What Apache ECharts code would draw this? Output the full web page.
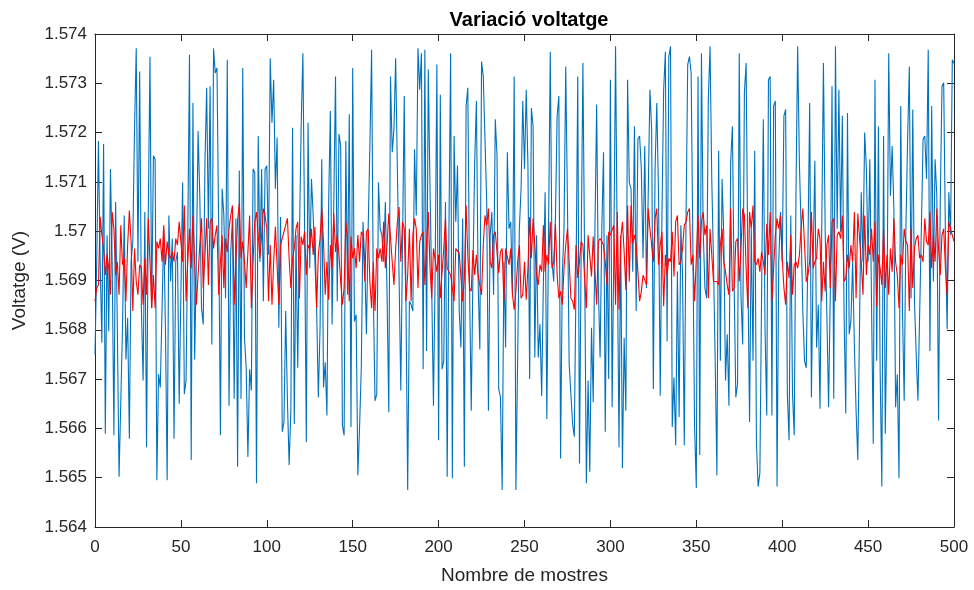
<!DOCTYPE html>
<html><head><meta charset="utf-8">
<script src="https://cdn.jsdelivr.net/npm/echarts@6/dist/echarts.min.js"></script>
<style>html,body{margin:0;padding:0;background:#fff}#c{width:974px;height:590px}</style>
</head><body><div id="c"></div>
<script>
const title = "Variació voltatge";
const xLabel = "Nombre de mostres";
const yLabel = "Voltatge (V)";
const xTicks = [0,50,100,150,200,250,300,350,400,450,500];
const yTicks = [1.564,1.565,1.566,1.567,1.568,1.569,1.57,1.571,1.572,1.573,1.574];

const blue = [
1.56750,1.56938,1.57183,1.56938,1.56774,1.57177,1.56589,1.56992,1.56797,1.57126,1.56938,1.56586,1.57059,1.56804,1.56502,1.56502,1.56804,1.57032,1.56740,1.56824,1.56579,1.56938,1.56979,1.57207,1.57371,1.56938,1.57324,1.56844,1.56697,1.57039,1.56562,1.57032,1.57354,1.56844,1.57153,1.57146,1.56495,1.56710,1.56683,1.56838,1.57005,1.56804,1.56495,1.57032,1.56898,1.56985,1.56579,1.56938,1.56958,1.56650,
1.56650,1.57099,1.56670,1.56697,1.56992,1.57358,1.56536,1.57260,1.56740,1.56938,1.57203,1.57072,1.56844,1.56811,1.57140,1.57291,1.57005,1.57294,1.56770,1.57371,1.57321,1.57331,1.57005,1.56586,1.57086,1.57032,1.56864,1.57348,1.56646,1.56958,1.57026,1.56660,1.57026,1.56522,1.57123,1.56660,1.57331,1.56784,1.56723,1.56542,1.56720,1.56677,1.57126,1.57119,1.56489,1.57193,1.56938,1.57126,1.56858,1.57126,
1.57133,1.56952,1.57351,1.57220,1.57307,1.57086,1.57190,1.56804,1.57029,1.56593,1.56613,1.56838,1.56656,1.56526,1.56636,1.57210,1.56609,1.56992,1.56723,1.56992,1.57213,1.57361,1.57005,1.56572,1.57220,1.56925,1.57106,1.57032,1.56938,1.56844,1.56663,1.56804,1.57146,1.56683,1.56734,1.56626,1.57059,1.57244,1.56811,1.57059,1.57314,1.56858,1.57197,1.57173,1.56606,1.56586,1.57183,1.56871,1.57237,1.56603,
1.57331,1.56817,1.56831,1.56505,1.56603,1.56723,1.57019,1.56938,1.56791,1.57005,1.57173,1.57368,1.56871,1.56656,1.56670,1.57099,1.57005,1.56992,1.56938,1.57059,1.56871,1.56633,1.57314,1.57160,1.57207,1.57351,1.57126,1.56905,1.56677,1.56673,1.57274,1.56858,1.56475,1.56858,1.56851,1.56838,1.57166,1.57032,1.57371,1.57287,1.57361,1.56720,1.57368,1.56757,1.57328,1.57086,1.56885,1.56646,1.56918,1.57338,
1.56576,1.57277,1.56720,1.56737,1.57059,1.56502,1.56999,1.57361,1.56499,1.57193,1.57019,1.57133,1.56838,1.56764,1.57026,1.56522,1.57254,1.57291,1.56891,1.56636,1.56918,1.57140,1.57264,1.56898,1.56760,1.57344,1.57314,1.57311,1.57059,1.56636,1.56992,1.57039,1.56871,1.57227,1.57153,1.56680,1.56663,1.56475,1.56938,1.56764,1.57160,1.57005,1.57019,1.56871,1.57314,1.56475,1.56479,1.57005,1.57086,1.57264,
1.57126,1.57287,1.57133,1.56700,1.57250,1.57213,1.56744,1.56992,1.56744,1.56811,1.56666,1.56898,1.57079,1.56619,1.57005,1.57364,1.56938,1.56898,1.57026,1.57234,1.57274,1.56539,1.56911,1.57005,1.57334,1.57056,1.56730,1.56670,1.56609,1.56583,1.56905,1.57314,1.56529,1.56972,1.57341,1.56938,1.56489,1.56697,1.56512,1.56804,1.56653,1.57005,1.57257,1.56885,1.56744,1.57005,1.57160,1.56593,1.56992,1.56700,
1.57307,1.56643,1.56965,1.57375,1.56958,1.56562,1.56992,1.56519,1.56784,1.56636,1.57307,1.57099,1.57086,1.56918,1.57213,1.56838,1.57187,1.57193,1.57126,1.56945,1.57173,1.56885,1.57072,1.57287,1.57207,1.56680,1.57126,1.57260,1.57079,1.56666,1.57032,1.57287,1.57364,1.56777,1.57354,1.57375,1.56603,1.56703,1.56566,1.56918,1.56623,1.57012,1.56911,1.56566,1.57019,1.57338,1.57354,1.57321,1.56972,1.56603,
1.56479,1.57314,1.56546,1.57361,1.57005,1.56885,1.56864,1.57267,1.57375,1.57106,1.56938,1.56737,1.56505,1.57163,1.56737,1.57106,1.56992,1.56697,1.56791,1.56646,1.57140,1.57213,1.56898,1.56663,1.56690,1.57361,1.56871,1.56770,1.57281,1.57341,1.56932,1.56613,1.57005,1.56737,1.57163,1.56569,1.56482,1.56509,1.56871,1.57227,1.56804,1.56626,1.57307,1.57314,1.56626,1.57254,1.57264,1.56482,1.56938,1.57039,
1.56938,1.57234,1.57247,1.56670,1.56576,1.57032,1.56670,1.56586,1.57072,1.57375,1.57140,1.57005,1.56838,1.56737,1.56723,1.56972,1.57260,1.56663,1.56938,1.57143,1.56764,1.56851,1.56640,1.57005,1.57341,1.57005,1.56831,1.56643,1.56878,1.57294,1.56660,1.57375,1.57005,1.57287,1.56999,1.57234,1.56838,1.56630,1.57240,1.56791,1.56817,1.56938,1.56770,1.56636,1.56536,1.56532,1.57079,1.56938,1.57200,1.57126,
1.56938,1.57146,1.56851,1.56569,1.57307,1.56737,1.57213,1.56720,1.56482,1.57193,1.56589,1.56838,1.57361,1.57072,1.57173,1.57046,1.56643,1.56710,1.56499,1.57254,1.56838,1.56656,1.57005,1.57187,1.57334,1.56864,1.57247,1.56858,1.56750,1.56656,1.56831,1.57005,1.57187,1.57193,1.57106,1.57368,1.56757,1.57254,1.56898,1.57146,1.57072,1.56616,1.57059,1.57294,1.57301,1.56992,1.56801,1.57079,1.56992,1.57348,1.57340
];

const red = [
1.56858,1.56885,1.56891,1.57029,1.56992,1.56965,1.56911,1.56952,1.56925,1.56871,1.57039,1.57005,1.56911,1.56938,1.56871,1.57012,1.56932,1.56945,1.56858,1.56972,1.57042,1.56979,1.56838,1.56965,1.56898,1.56871,1.56932,1.56925,1.56851,1.56945,1.56871,1.57026,1.56938,1.56844,1.56911,1.56844,1.56979,1.56965,1.56985,1.56938,1.57012,1.56932,1.56979,1.56952,1.56945,1.56958,1.56938,1.56985,1.56972,1.57019,
1.57019,1.56938,1.57052,1.56858,1.56938,1.57005,1.56925,1.57032,1.56938,1.56851,1.56911,1.56972,1.57026,1.56885,1.56952,1.57026,1.56891,1.57019,1.57026,1.56965,1.56992,1.57012,1.56871,1.56938,1.56992,1.56885,1.56985,1.56958,1.57005,1.57032,1.57052,1.56851,1.56938,1.57022,1.57056,1.56945,1.56979,1.56938,1.56885,1.56881,1.57032,1.56844,1.56938,1.57019,1.57039,1.56992,1.56945,1.56992,1.57046,1.57032,
1.57005,1.56858,1.56972,1.56851,1.56938,1.57009,1.57005,1.56851,1.56972,1.56972,1.56999,1.56999,1.57026,1.56945,1.56885,1.56945,1.56965,1.57005,1.57019,1.56864,1.56989,1.56972,1.56999,1.56911,1.56972,1.56965,1.57005,1.56952,1.57009,1.56844,1.56952,1.56985,1.57046,1.56979,1.56871,1.56938,1.56861,1.56972,1.56925,1.57036,1.56958,1.56992,1.56952,1.56898,1.56851,1.56885,1.57019,1.56979,1.56858,1.56989,
1.56945,1.56965,1.56925,1.56992,1.56938,1.56999,1.56992,1.56898,1.56999,1.57005,1.56898,1.56844,1.56938,1.56838,1.56965,1.56945,1.56965,1.56938,1.57019,1.56925,1.56972,1.57036,1.57036,1.56938,1.56891,1.56965,1.57019,1.57049,1.56938,1.57019,1.57005,1.56858,1.56911,1.57005,1.56858,1.56992,1.57026,1.57005,1.56885,1.56979,1.56992,1.56999,1.56891,1.56979,1.57039,1.56925,1.56864,1.56965,1.56965,1.56918,
1.56952,1.56864,1.56864,1.56965,1.57026,1.56925,1.56918,1.56911,1.56885,1.56858,1.56965,1.56965,1.56955,1.56955,1.56858,1.56905,1.57052,1.56952,1.56885,1.56878,1.56962,1.56911,1.56952,1.56911,1.56915,1.56871,1.56972,1.57032,1.57012,1.57046,1.56938,1.56925,1.56992,1.56999,1.56995,1.56915,1.56958,1.56965,1.56858,1.56965,1.56968,1.56932,1.56965,1.56871,1.56841,1.56878,1.56938,1.56972,1.56864,1.56871,
1.56938,1.56861,1.56925,1.57029,1.56945,1.57026,1.56972,1.56911,1.56891,1.56932,1.56918,1.57012,1.56918,1.56952,1.56932,1.57019,1.56925,1.56938,1.57015,1.56911,1.56864,1.56878,1.56851,1.56925,1.56972,1.57005,1.56938,1.56864,1.56858,1.56841,1.56972,1.56905,1.56938,1.56979,1.56972,1.56905,1.56844,1.56992,1.56992,1.56908,1.56989,1.56992,1.56851,1.56979,1.56985,1.56989,1.56972,1.56938,1.56891,1.56999,
1.56992,1.56992,1.57012,1.56851,1.57039,1.56841,1.56985,1.57019,1.56958,1.56881,1.57052,1.56898,1.57052,1.56975,1.56992,1.56972,1.56918,1.56858,1.56878,1.56911,1.56908,1.56891,1.57046,1.57005,1.56972,1.56938,1.57026,1.57046,1.56932,1.56972,1.56999,1.56848,1.56952,1.56911,1.56945,1.56938,1.56999,1.56908,1.57019,1.57032,1.56932,1.56938,1.56965,1.57012,1.57019,1.57039,1.57046,1.56932,1.56952,1.56858,
1.56858,1.57032,1.56945,1.57019,1.57039,1.56992,1.57012,1.56864,1.57005,1.57009,1.56898,1.56898,1.56898,1.56891,1.56972,1.57005,1.56938,1.56918,1.56891,1.56871,1.57046,1.56878,1.56885,1.56979,1.56985,1.56898,1.56965,1.57046,1.57032,1.56925,1.56844,1.57039,1.57005,1.57052,1.56938,1.56932,1.56945,1.56918,1.56958,1.56938,1.56911,1.57015,1.56952,1.57039,1.56858,1.56858,1.56992,1.57026,1.57005,1.57032,
1.56945,1.56885,1.56851,1.56938,1.56905,1.56992,1.56871,1.56932,1.56938,1.56925,1.56952,1.57005,1.57046,1.56972,1.56898,1.56911,1.56938,1.57039,1.56925,1.56938,1.56945,1.57005,1.56985,1.56858,1.56938,1.56878,1.56972,1.56992,1.56885,1.57019,1.57026,1.56858,1.56992,1.56999,1.56985,1.57032,1.56898,1.56905,1.56952,1.56925,1.56972,1.56938,1.57039,1.56864,1.57036,1.57032,1.56938,1.56871,1.57032,1.56911,
1.56972,1.56952,1.57005,1.56938,1.57019,1.56848,1.56952,1.56925,1.56891,1.57005,1.56885,1.56952,1.56871,1.56965,1.56918,1.57026,1.56938,1.56911,1.56844,1.56952,1.56932,1.57005,1.56979,1.56972,1.56838,1.57005,1.56885,1.56965,1.56985,1.56992,1.56945,1.56952,1.56938,1.57026,1.56979,1.56972,1.57039,1.56925,1.56992,1.56938,1.57046,1.56965,1.56911,1.56992,1.57005,1.56925,1.56871,1.57019,1.57005,1.56992,1.56979
];

const FONT = "Liberation Sans";
const AX = "#262626";
const toPairs = arr => arr.map((v, i) => [i, v]);
const fmtY = v => { let s = (+v).toFixed(3); s = s.replace(/0+$/, '').replace(/\.$/, ''); return s; };

const chart = echarts.init(document.getElementById('c'), null, {renderer: 'canvas'});
const xMin = xTicks[0], xMax = xTicks[xTicks.length - 1], xInt = xTicks[1] - xTicks[0];
const yMin = yTicks[0], yMax = yTicks[yTicks.length - 1], yInt = 0.001;

const baseX = {
  type: 'value', min: xMin, max: xMax, interval: xInt,
  axisLine: {show: true, onZero: false, lineStyle: {color: AX, width: 1}},
  axisTick: {show: true, inside: true, length: 7, lineStyle: {color: AX}},
  splitLine: {show: false}
};
const baseY = {
  type: 'value', min: yMin, max: yMax, interval: yInt,
  axisLine: {show: true, onZero: false, lineStyle: {color: AX, width: 1}},
  axisTick: {show: true, inside: true, length: 7, lineStyle: {color: AX}},
  splitLine: {show: false}
};

chart.setOption({
  animation: false,
  backgroundColor: '#ffffff',
  title: {
    text: title, left: 524, top: 5, textAlign: 'center',
    textStyle: {fontFamily: FONT, fontSize: 20, fontWeight: 'bold', color: '#000'}
  },
  grid: {left: 95, right: 20, top: 34, bottom: 60, containLabel: false},
  xAxis: [
    Object.assign({}, baseX, {
      position: 'bottom', name: xLabel, nameLocation: 'middle', nameGap: 39,
      nameTextStyle: {fontFamily: FONT, fontSize: 19, color: AX},
      axisLabel: {fontFamily: FONT, fontSize: 17, color: AX, margin: 12}
    }),
    Object.assign({}, baseX, {position: 'top', axisLabel: {show: false}})
  ],
  yAxis: [
    Object.assign({}, baseY, {
      position: 'left', name: yLabel, nameLocation: 'middle', nameGap: 66,
      nameTextStyle: {fontFamily: FONT, fontSize: 19, color: AX},
      axisLabel: {fontFamily: FONT, fontSize: 17, color: AX, margin: 8, formatter: fmtY}
    }),
    Object.assign({}, baseY, {position: 'right', axisLabel: {show: false}})
  ],
  series: [
    {type: 'line', data: toPairs(blue), showSymbol: false, symbol: 'none',
     lineStyle: {color: '#0072BD', width: 1.1}, itemStyle: {color: '#0072BD'}},
    {type: 'line', data: toPairs(red), showSymbol: false, symbol: 'none',
     lineStyle: {color: '#FF0000', width: 1.1}, itemStyle: {color: '#FF0000'}}
  ]
});
</script>
</body></html>
